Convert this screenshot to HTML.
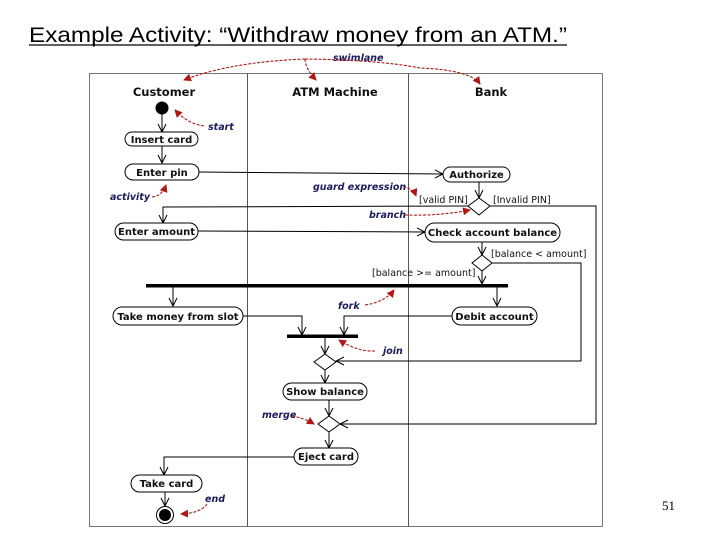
<!DOCTYPE html>
<html><head><meta charset="utf-8"><style>
body{margin:0;width:720px;height:540px;background:#fff;overflow:hidden}
svg{display:block}
.b{font-family:"DejaVu Sans",sans-serif;font-size:10px;font-weight:bold;fill:#111}
.a{font-family:"DejaVu Sans",sans-serif;font-size:9.5px;font-style:italic;font-weight:bold;fill:#1a1a5e}
.g{font-family:"DejaVu Sans",sans-serif;font-size:9.5px;fill:#111}
.h{font-family:"DejaVu Sans",sans-serif;font-size:11.5px;font-weight:bold;fill:#111}
</style></head><body>
<svg width="720" height="540" viewBox="0 0 720 540">
<defs>
<marker id="o" markerWidth="10" markerHeight="10" refX="9" refY="5" orient="auto" markerUnits="userSpaceOnUse"><path d="M1,1 L9,5 L1,9" fill="none" stroke="#000" stroke-width="1"/></marker>
<marker id="r" markerWidth="8" markerHeight="8" refX="7" refY="4" orient="auto" markerUnits="userSpaceOnUse"><path d="M0,0 L8,4 L0,8 Z" fill="#b01818"/></marker>
</defs>
<text x="29" y="42" font-family="Liberation Sans,sans-serif" font-size="21" textLength="538" lengthAdjust="spacingAndGlyphs">Example Activity: “Withdraw money from an ATM.”</text>
<line x1="29" y1="45" x2="567" y2="45" stroke="#000" stroke-width="1.3"/>
<text x="662" y="510" font-family="Liberation Serif,serif" font-size="13">51</text>

<rect x="89.5" y="73.5" width="513" height="453" fill="none" stroke="#777"/>
<line x1="247.5" y1="73" x2="247.5" y2="527" stroke="#555"/>
<line x1="408.5" y1="73" x2="408.5" y2="527" stroke="#555"/>
<text class="h" x="164" y="96" text-anchor="middle">Customer</text>
<text class="h" x="335" y="96" text-anchor="middle">ATM Machine</text>
<text class="h" x="491" y="96" text-anchor="middle">Bank</text>

<g fill="none" stroke="#000" stroke-width="1">
<line x1="162" y1="114" x2="162" y2="132" marker-end="url(#o)"/>
<line x1="162" y1="146" x2="162" y2="163" marker-end="url(#o)"/>
<line x1="199" y1="172" x2="443" y2="174" marker-end="url(#o)"/>
<line x1="479" y1="182" x2="479" y2="198" marker-end="url(#o)"/>
<polyline points="468,206 163,207 163,223" marker-end="url(#o)"/>
<polyline points="490,206 596,206 596,424 340,424" marker-end="url(#o)"/>
<line x1="198" y1="231" x2="425" y2="232" marker-end="url(#o)"/>
<line x1="482" y1="242" x2="482" y2="255" marker-end="url(#o)"/>
<polyline points="492,263 581,263 581,361 336,361" marker-end="url(#o)"/>
<line x1="482" y1="271" x2="482" y2="284" marker-end="url(#o)"/>
<line x1="173" y1="286" x2="173" y2="306" marker-end="url(#o)"/>
<line x1="497" y1="286" x2="497" y2="306" marker-end="url(#o)"/>
<polyline points="242,316 302,316 302,335" marker-end="url(#o)"/>
<polyline points="452,316 344,316 344,335" marker-end="url(#o)"/>
<line x1="325" y1="338" x2="325" y2="354" marker-end="url(#o)"/>
<line x1="325" y1="370" x2="325" y2="383" marker-end="url(#o)"/>
<line x1="329" y1="400" x2="329" y2="416" marker-end="url(#o)"/>
<line x1="329" y1="432" x2="329" y2="448" marker-end="url(#o)"/>
<polyline points="294,457 164,457 164,475" marker-end="url(#o)"/>
<line x1="165" y1="492" x2="165" y2="506" marker-end="url(#o)"/>
</g>

<rect x="146" y="284" width="362" height="3.5" fill="#000"/>
<rect x="287" y="334.5" width="71" height="3.5" fill="#000"/>

<g fill="#fff" stroke="#000" stroke-width="1">
<polygon points="479,198 490,206 479,215 468,206"/>
<polygon points="482,255 492,263 482,271 472,263"/>
<polygon points="325,354 336,362 325,370 314,362"/>
<polygon points="329,416 340,424 329,432 318,424"/>
<rect x="125" y="132" width="73" height="14" rx="7"/>
<rect x="125" y="164" width="74" height="16" rx="8"/>
<rect x="443" y="167" width="67" height="15" rx="7.5"/>
<rect x="115" y="223" width="83" height="17" rx="8.5"/>
<rect x="425" y="223" width="135" height="19" rx="9.5"/>
<rect x="113" y="307" width="130" height="18" rx="9"/>
<rect x="452" y="307" width="85" height="18" rx="9"/>
<rect x="283" y="383" width="84" height="17" rx="8.5"/>
<rect x="294" y="448" width="64" height="17" rx="8.5"/>
<rect x="131" y="475" width="71" height="17" rx="8.5"/>
</g>
<circle cx="162" cy="108" r="6.5" fill="#000"/>
<circle cx="165" cy="515" r="8.5" fill="#fff" stroke="#000"/>
<circle cx="165" cy="515" r="6" fill="#000"/>

<text class="b" x="161.5" y="143" text-anchor="middle">Insert card</text>
<text class="b" x="162" y="176" text-anchor="middle">Enter pin</text>
<text class="b" x="476.5" y="178" text-anchor="middle">Authorize</text>
<text class="b" x="156.5" y="235" text-anchor="middle">Enter amount</text>
<text class="b" x="492.5" y="236" text-anchor="middle">Check account balance</text>
<text class="b" x="178" y="320" text-anchor="middle">Take money from slot</text>
<text class="b" x="494.5" y="320" text-anchor="middle">Debit account</text>
<text class="b" x="325" y="395" text-anchor="middle">Show balance</text>
<text class="b" x="326" y="460" text-anchor="middle">Eject card</text>
<text class="b" x="166.5" y="487" text-anchor="middle">Take card</text>

<text class="g" x="419" y="203">[valid PIN]</text>
<text class="g" x="493" y="203">[Invalid PIN]</text>
<text class="g" x="491" y="257">[balance &lt; amount]</text>
<text class="g" x="372" y="276">[balance &gt;= amount]</text>

<text class="a" x="333" y="61">swimlane</text>
<text class="a" x="208" y="130">start</text>
<text class="a" x="110" y="200">activity</text>
<text class="a" x="313" y="190">guard expression</text>
<text class="a" x="369" y="218">branch</text>
<text class="a" x="338" y="309">fork</text>
<text class="a" x="383" y="354">join</text>
<text class="a" x="262" y="418">merge</text>
<text class="a" x="205" y="502">end</text>

<g fill="none" stroke="#b01818" stroke-width="1.1" stroke-dasharray="3,1.5">
<path d="M305,59 Q230,62 184,80" marker-end="url(#r)"/>
<path d="M305,59 Q305,68 316,80" marker-end="url(#r)"/>
<path d="M305,59 Q380,60 420,68 Q470,70 480,84" marker-end="url(#r)"/>
<path d="M204,126 Q188,124 175,110" marker-end="url(#r)"/>
<path d="M152,197 Q162,196 166,185" marker-end="url(#r)"/>
<path d="M403,187 Q413,188 416,196" marker-end="url(#r)"/>
<path d="M405,215 Q440,216 470,210" marker-end="url(#r)"/>
<path d="M365,305 Q385,302 394,290" marker-end="url(#r)"/>
<path d="M375,351 Q358,352 339,340" marker-end="url(#r)"/>
<path d="M292,416 Q304,418 314,424" marker-end="url(#r)"/>
<path d="M207,504 Q201,513 181,514" marker-end="url(#r)"/>
</g>
</svg>
</body></html>
